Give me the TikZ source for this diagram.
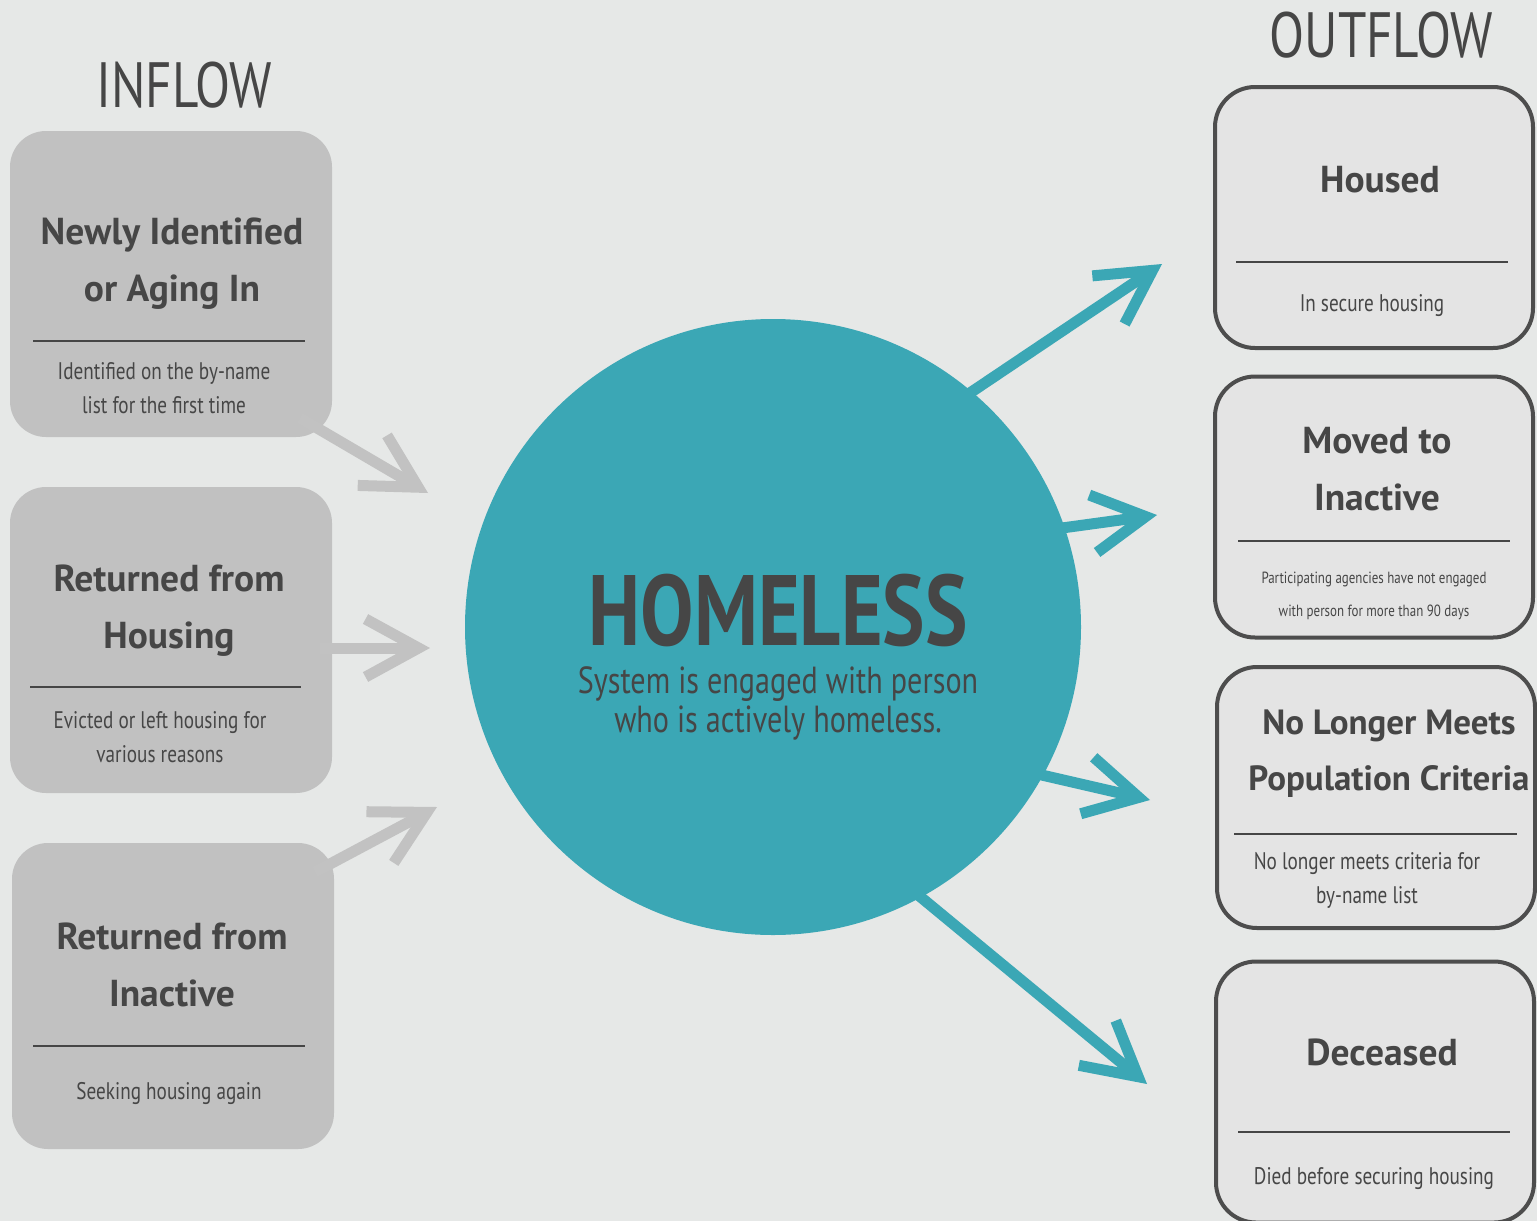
\documentclass[tikz,border=0pt]{standalone}
\usepackage{fontspec}
\setmainfont{PT Sans}
\newfontfamily\narrowf[FakeStretch=0.8]{PT Sans}
\newfontfamily\titlef{PT Sans}
\usetikzlibrary{arrows.meta}
\definecolor{bg}{HTML}{E6E8E7}
\definecolor{tealc}{HTML}{3BA7B5}
\definecolor{grayarrow}{HTML}{C2C2C2}
\definecolor{inbox}{HTML}{C1C1C1}
\definecolor{outbox}{HTML}{E4E4E4}
\definecolor{outline}{HTML}{4D4D4D}
\definecolor{txt}{HTML}{464646}
\tikzset{
  inflowbox/.style={fill=inbox, rounded corners=36pt, minimum width=322pt, minimum height=306pt, inner sep=0pt},
  outflowbox/.style={draw=outline, line width=4pt, fill=outbox, rounded corners=40pt, minimum width=318pt, minimum height=261pt, inner sep=0pt},
  sepline/.style={draw=txt, line width=2pt},
  titletext/.style={text=txt, align=center, font=\titlef\bfseries\fontsize{37.5}{57}\selectfont},
  subtext/.style={text=txt, align=center, font=\narrowf\fontsize{24}{34}\selectfont},
  smalltext/.style={text=txt, align=center, font=\narrowf\fontsize{16.2}{33}\selectfont},
  headtext/.style={text=txt, font=\narrowf\fontsize{64}{70}\selectfont},
  grayflow/.style={draw=grayarrow, line width=11pt, -{Straight Barb[length=53pt, width=58pt]}},
  tealflow/.style={draw=tealc, line width=11pt, -{Straight Barb[length=53pt, width=58pt]}},
}
\begin{document}
\begin{tikzpicture}[x=1pt, y=-1pt]
\useasboundingbox (0,0) rectangle (1537,1221);
\fill[bg] (0,0) rectangle (1537,1221);

% headings
\node[headtext] (inflow) at (184,85) {INFLOW};
\node[headtext] (outflow) at (1381,35) {OUTFLOW};

% inflow boxes
\node[inflowbox] (in1) at (171,284) {};
\node[inflowbox] (in2) at (171,640) {};
\node[inflowbox] (in3) at (173,996) {};
\draw[sepline] (33,341) -- (305,341);
\draw[sepline] (30,687) -- (301,687);
\draw[sepline] (33,1046) -- (305,1046);
\node[titletext] (in1t) at (172,264) {Newly Identified\\or Aging In};
\node[subtext] (in1s) at (164,388) {Identified on the by-name\\list for the first time};
\node[titletext] (in2t) at (169,611) {Returned from\\Housing};
\node[subtext] (in2s) at (160,737) {Evicted or left housing for\\various reasons};
\node[titletext] (in3t) at (172,965) {Returned from\\Inactive};
\node[subtext] (in3s) at (169,1093) {Seeking housing again};

% outflow boxes
\node[outflowbox] (out1) at (1374,217.5) {};
\node[outflowbox] (out2) at (1374,507) {};
\node[outflowbox] (out3) at (1376,797.5) {};
\node[outflowbox] (out4) at (1375,1092) {};
\draw[sepline] (1236,262) -- (1508,262);
\draw[sepline] (1238,541) -- (1510,541);
\draw[sepline] (1234,834) -- (1517,834);
\draw[sepline] (1238,1132) -- (1510,1132);
\node[titletext] (out1t) at (1380,180) {Housed};
\node[subtext] (out1s) at (1372,306) {In secure housing};
\node[smalltext] (out2s) at (1374,595.5) {Participating agencies have not engaged\\with person for more than 90 days};
\node[titletext] (out2t) at (1377,469) {Moved to\\Inactive};
\node[titletext, font=\titlef\bfseries\fontsize{35}{56}\selectfont] (out3t) at (1389,754) {No Longer Meets\\Population Criteria};
\node[subtext] (out3s) at (1367,880) {No longer meets criteria for\\by-name list};
\node[titletext] (out4t) at (1382,1052) {Deceased};
\node[subtext] (out4s) at (1374,1179) {Died before securing housing};

% centre circle
\node[circle, fill=tealc, minimum size=616pt, inner sep=0pt] (hc) at (773,627) {};
\node[text=txt, align=center, inner sep=0pt, font=\narrowf\fontsize{37.7}{39}\selectfont] (hct) at (778,657)
  {{\bfseries\fontsize{100}{100}\selectfont HOMELESS}\\[9pt]System is engaged with person\\who is actively homeless.};

% arrow coordinates
\coordinate (g1s) at (300,418);
\coordinate (g1e) at (428,493);
\coordinate (g2s) at (320,648);
\coordinate (g2e) at (430,648);
\coordinate (g3s) at (315,872);
\coordinate (g3e) at (437,807);
\coordinate (t1s) at (955,403);
\coordinate (t1e) at (1162,264);
\coordinate (t2s) at (1040,531);
\coordinate (t2e) at (1157,515);
\coordinate (t3s) at (1020,770);
\coordinate (t3e) at (1150,800);
\coordinate (t4s) at (900,880);
\coordinate (t4e) at (1147,1084);

\draw[grayflow] (g1s) -- (g1e);
\draw[grayflow] (g2s) -- (g2e);
\draw[grayflow] (g3s) -- (g3e);
\draw[tealflow] (t1s) -- (t1e);
\draw[tealflow] (t2s) -- (t2e);
\draw[tealflow] (t3s) -- (t3e);
\draw[tealflow] (t4s) -- (t4e);
\end{tikzpicture}
\end{document}
